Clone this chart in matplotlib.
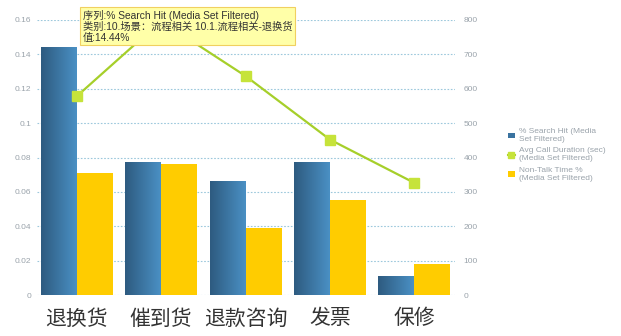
import matplotlib.pyplot as plt
import numpy as np
from matplotlib.colors import LinearSegmentedColormap
from matplotlib.lines import Line2D
from matplotlib.patches import Patch

plt.rcParams['font.family'] = ['Liberation Sans', 'Noto Sans CJK SC', 'DejaVu Sans']

# data
categories = ["退换货", "催到货", "退款咨询", "发票", "保修"]
search_hit = [0.1444, 0.0775, 0.0665, 0.0775, 0.011]
non_talk = [0.071, 0.0765, 0.039, 0.0555, 0.018]
call_duration = [578, 797, 637, 452, 326]

left_ticks = [0, 0.02, 0.04, 0.06, 0.08, 0.1, 0.12, 0.14, 0.16]
left_labels = ["0", "0.02", "0.04", "0.06", "0.08", "0.1", "0.12", "0.14", "0.16"]
right_ticks = [0, 100, 200, 300, 400, 500, 600, 700, 800]

fig = plt.figure(figsize=(6.21, 3.36), dpi=100)
ax = fig.add_axes([37 / 621, 1 - 295 / 336, 418 / 621, 275 / 336])
ax2 = ax.twinx()

x = np.arange(len(categories))
w = 0.426
blue_cmap = LinearSegmentedColormap.from_list("blue", ["#2e5b80", "#4a90c4"])
grad = np.linspace(0, 1, 64).reshape(1, -1)

# blue bars with a left-to-right gradient
for xi, v in zip(x, search_hit):
    bar = ax.bar(xi - w / 2, v, w, color="none", zorder=2)[0]
    im = ax.imshow(grad, cmap=blue_cmap, aspect="auto", zorder=2,
                   extent=[xi - w, xi, 0, v])
    im.set_clip_path(bar)

ax.bar(x + w / 2, non_talk, w, color="#ffcc00", zorder=2)

ax.set_xlim(-0.47, 4.48)
ax.set_ylim(0, 0.16)
ax.set_yticks(left_ticks)
ax.set_yticklabels(left_labels)
ax.set_xticks(x)
ax.set_xticklabels(categories, fontsize=15, color="#333333", family="Noto Sans CJK SC")
ax.tick_params(axis="x", length=0, pad=9)
ax.tick_params(axis="y", length=0, labelsize=6, colors="#9aa3ab", pad=4)
ax.grid(axis="y", color="#9cc8dc", linestyle=(0, (1.5, 1.5)), linewidth=0.8, zorder=0)
ax.set_axisbelow(True)
for s in ax.spines.values():
    s.set_visible(False)

ax2.plot(x, call_duration, color="#a6cf2a", linewidth=1.6, marker="s",
         markersize=7, markerfacecolor="#c6e33a", markeredgecolor="#c6e33a", zorder=3)
ax2.set_ylim(0, 800)
ax2.set_yticks(right_ticks)
ax2.tick_params(axis="y", length=0, labelsize=6, colors="#9aa3ab", pad=6)
for s in ax2.spines.values():
    s.set_visible(False)

# tooltip box
tip = ("序列:% Search Hit (Media Set Filtered)\n"
       "类别:10.场景：流程相关 10.1.流程相关-退换货\n"
       "值:14.44%")
fig.text(83 / 621, 1 - 10 / 336, tip, fontsize=7.4, color="#333333", va="top", ha="left",
         linespacing=1.1, zorder=10,
         bbox=dict(boxstyle="square,pad=0.25", facecolor="#ffffa8", edgecolor="#f0d060", linewidth=0.8))

handles = [
    Patch(facecolor="#3a73a0", edgecolor="none"),
    Line2D([0], [0], color="#a6cf2a", marker="s", markersize=4,
           markerfacecolor="#c6e33a", markeredgecolor="#c6e33a"),
    Patch(facecolor="#ffcc00", edgecolor="none"),
]
labels = ["% Search Hit (Media\nSet Filtered)",
          "Avg Call Duration (sec)\n(Media Set Filtered)",
          "Non-Talk Time %\n(Media Set Filtered)"]
fig.legend(handles, labels, loc="center left", bbox_to_anchor=(500 / 621, 1 - 155 / 336),
           frameon=False, fontsize=6, labelcolor="#9aa3ab", handlelength=0.9,
           handletextpad=0.5, labelspacing=0.5)

fig.savefig("out.png", dpi=100)
